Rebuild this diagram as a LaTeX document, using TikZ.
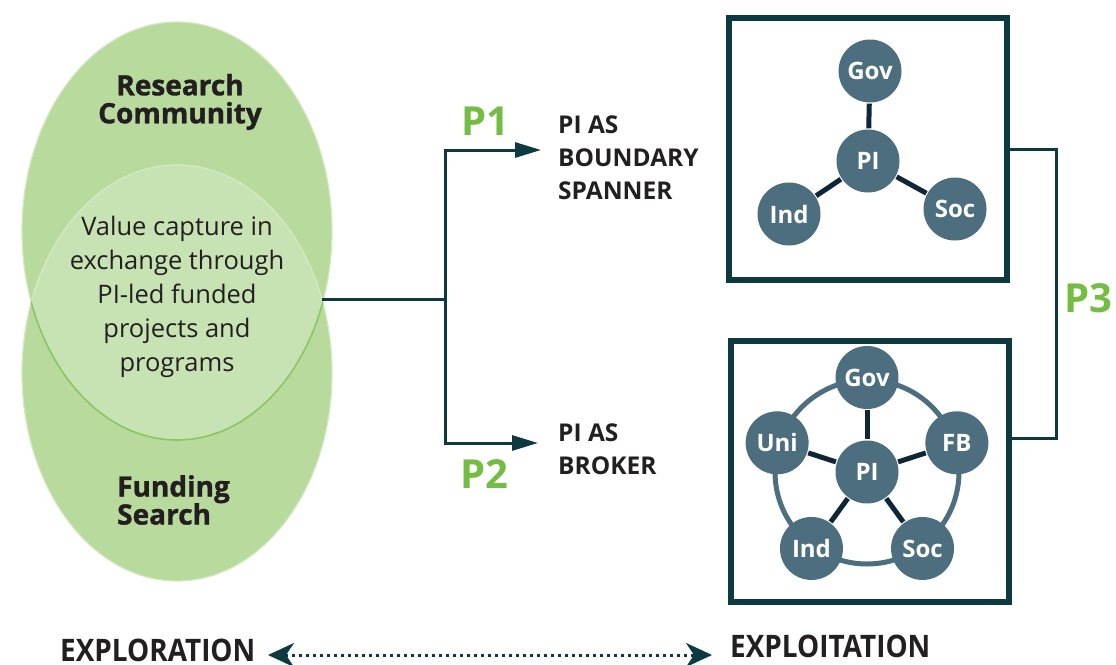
\documentclass[tikz,border=0pt]{standalone}
\usepackage{fontspec}
\setmainfont{Open Sans}
\newfontfamily\heavyfont[BoldFeatures={FakeBold=1.2}]{Open Sans}
\usetikzlibrary{arrows.meta,shapes.geometric,calc}
\definecolor{leaf}{HTML}{B8DA9D}
\definecolor{lensfill}{HTML}{C8E3B3}
\definecolor{lensedge}{HTML}{8DC565}
\definecolor{rim}{HTML}{D2E9C1}
\definecolor{deepteal}{HTML}{0D3A40}
\definecolor{slate}{HTML}{4C6E7E}
\definecolor{navy}{HTML}{0F2638}
\definecolor{pgreen}{HTML}{74BD43}
\definecolor{ink}{HTML}{231F20}
\tikzset{
  blob/.style={ellipse, fill=leaf, draw=rim, line width=1.2, inner sep=0},
  head/.style={font=\heavyfont\bfseries\fontsize{28}{28}\selectfont, text=ink, inner sep=0},
  role/.style={font=\bfseries\fontsize{24.5}{33}\selectfont, text=ink, align=left, anchor=west, inner sep=0},
  plabel/.style={font=\bfseries\fontsize{40}{40}\selectfont, text=pgreen, inner sep=0},
  frame/.style={draw=deepteal, line width=6, inner sep=0},
  actor/.style={circle, fill=slate, minimum size=63, inner sep=0, text=white, font=\bfseries\fontsize{24}{24}\selectfont},
  tie/.style={navy, line width=5, shorten <=1, shorten >=1},
  flow/.style={deepteal, line width=3},
  axis/.style={font=\bfseries\fontsize{31}{34}\selectfont, text=ink, inner sep=0}
}
\begin{document}
\begin{tikzpicture}[x=1pt,y=-1pt]
\useasboundingbox (0,0) rectangle (1116,664);

% the two overlapping fields
\node[blob, minimum width=310, minimum height=418] (rc) at (177,231) {};
\node[blob, minimum width=310, minimum height=416] (fs) at (177,373) {};
\begin{scope}
  \clip (177,231) ellipse [x radius=155, y radius=209];
  \fill[lensfill] (177,373) ellipse [x radius=155, y radius=208];
  \draw[rim, line width=1.2] (177,373) ellipse [x radius=155, y radius=208];
\end{scope}
\begin{scope}
  \clip (177,373) ellipse [x radius=155, y radius=208];
  \draw[lensedge, line width=1.6] (177,231) ellipse [x radius=155, y radius=209];
\end{scope}

\node[head, align=center] (rclab) at (180,102) {Research\\Community};
\node[head, align=left, anchor=west] (fslab) at (117,500) {Funding\\Search};
\node[align=center, text=ink, font=\fontsize{25.5}{34}\selectfont, inner sep=0] (vc) at (177,297)
  {Value capture in\\exchange through\\PI-led funded\\projects and\\programs};

% branching into the two roles
\coordinate (lensR) at (322,299);
\coordinate (fork) at (445,299);
\coordinate (tipA) at (541,150);
\coordinate (tipB) at (538,443);
\draw[flow] (lensR) -- (fork);
\draw[flow, -{Triangle[length=26,width=15]}] (fork) |- (tipA);
\draw[flow, -{Triangle[length=26,width=15]}] (fork) |- (tipB);

\node[plabel] (p1) at (485,121) {P1};
\node[plabel] (p2) at (484,474) {P2};
\node[role] (bs) at (558,158) {PI AS\\BOUNDARY\\SPANNER};
\node[role] (br) at (558,449) {PI AS\\BROKER};

% boundary spanner network
\node[frame, minimum width=278, minimum height=262] (boxA) at (868,149) {};
\node[actor] (aPI) at (868,161) {PI};
\node[actor] (aGov) at (870,71) {Gov};
\node[actor] (aInd) at (789,214) {Ind};
\node[actor] (aSoc) at (955,209) {Soc};
\draw[tie] (aPI) -- (aGov);
\draw[tie] (aPI) -- (aInd);
\draw[tie] (aPI) -- (aSoc);

% broker network
\node[frame, minimum width=278, minimum height=261] (boxB) at (870,471) {};
\node[circle, draw=slate, line width=5, minimum size=184, inner sep=0] (ring) at (867,472) {};
\node[actor] (bPI) at (ring.center) {PI};
\node[actor] (bGov) at (ring.90) {Gov};
\node[actor] (bFB) at (ring.18) {FB};
\node[actor] (bSoc) at (ring.-54) {Soc};
\node[actor] (bInd) at (ring.-126) {Ind};
\node[actor] (bUni) at (ring.162) {Uni};
\foreach \n in {bGov,bFB,bSoc,bInd,bUni} \draw[tie] (bPI) -- (\n);

% link between the two networks
\coordinate (bend) at (1056,149);
\draw[flow] (boxA.east) -- (bend) |- ($(boxB.east)+(0,-33)$);
\node[plabel] (p3) at (1088,298) {P3};

% exploration / exploitation axis
\node[axis, anchor=base west] (explor) at (60,661) {\scalebox{0.9}[1]{EXPLORATION}};
\node[axis, anchor=base west] (exploit) at (730,657) {\scalebox{0.9}[1]{EXPLOITATION}};
\coordinate (axL) at (268,655);
\coordinate (axR) at (712,655);
\draw[deepteal, line width=3, dash pattern=on 3 off 4,
  {Stealth[length=26,width=24,inset=8]}-{Stealth[length=26,width=24,inset=8]}] (axL) -- (axR);
\end{tikzpicture}
\end{document}
